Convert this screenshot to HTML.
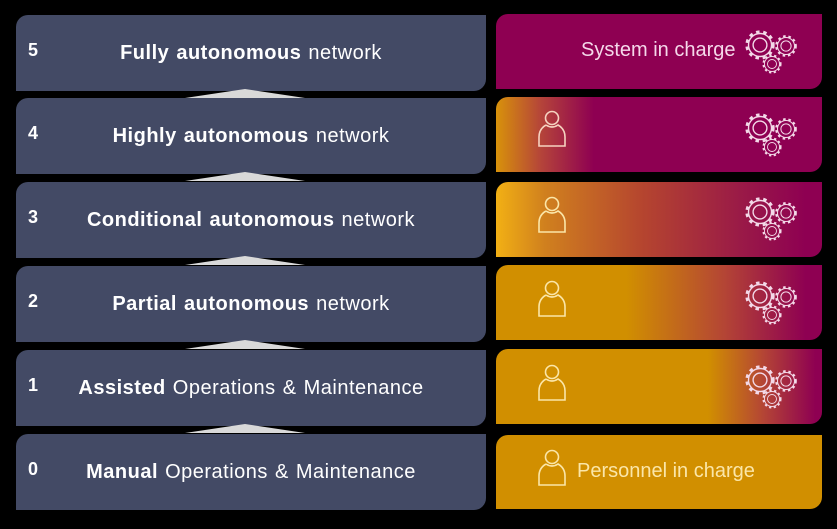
<!DOCTYPE html>
<html><head><style>
body{margin:0;background:#000;width:837px;height:529px;overflow:hidden;position:relative;font-family:"Liberation Sans",sans-serif}
.l{position:absolute;left:16px;width:470px;height:76px;background:#434a65;border-radius:12px 0 12px 0;color:#fff}
.l .n{position:absolute;left:12px;top:25px;font-size:18px;font-weight:bold}
.l .t{position:absolute;left:0;right:0;top:27px;text-align:center;font-size:20px;letter-spacing:0.5px;word-spacing:1px}
.r{position:absolute;left:496px;width:326px;height:75px;border-radius:12px 0 12px 0}
svg.ic{position:absolute;left:0;top:0}
</style></head><body>
<div class="l" style="top:15px"><span class="n">5</span><div class="t"><b>Fully autonomous</b> network</div></div>
<div class="l" style="top:98px"><span class="n">4</span><div class="t"><b>Highly autonomous</b> network</div></div>
<div class="l" style="top:182px"><span class="n">3</span><div class="t"><b>Conditional autonomous</b> network</div></div>
<div class="l" style="top:266px"><span class="n">2</span><div class="t"><b>Partial autonomous</b> network</div></div>
<div class="l" style="top:350px"><span class="n">1</span><div class="t"><b>Assisted</b> Operations &amp; Maintenance</div></div>
<div class="l" style="top:434px"><span class="n">0</span><div class="t"><b>Manual</b> Operations &amp; Maintenance</div></div>

<div class="r" style="top:14px;background:#8e0052"></div>
<div class="r" style="top:97px;background:linear-gradient(90deg,#d8920a 0%,#b4433a 14%,#8e0052 30%,#8e0052 100%)"></div>
<div class="r" style="top:182px;background:linear-gradient(90deg,#f2b014 0%,#d0801e 15%,#b5452f 45%,#9a1a47 75%,#8e0052 95%)"></div>
<div class="r" style="top:265px;background:linear-gradient(90deg,#d18f00 0%,#d18f00 40%,#b44535 70%,#8e0052 95%)"></div>
<div class="r" style="top:349px;background:linear-gradient(90deg,#d18f00 0%,#d18f00 65%,#b44535 82%,#8e0052 98%)"></div>
<div class="r" style="top:435px;height:74px;background:#d18f00"></div>

<div style="position:absolute;left:581px;top:39px;color:#f5d8ea;font-size:20px">System in charge</div>
<div style="position:absolute;left:577px;top:460px;color:#fbe6a8;font-size:20px">Personnel in charge</div>

<svg class="ic" width="837" height="529">
<defs>
<g id="gear" fill="none" stroke="#f3d9e8">
<circle cx="0" cy="0" r="11.5" stroke-width="2.5" stroke-dasharray="3 3.3"/>
<circle cx="0" cy="0" r="10" stroke-width="1.2"/>
<circle cx="0" cy="0" r="6" stroke-width="1.2"/>
</g>
<g id="gears">
<g transform="scale(1.15)"><use href="#gear"/></g>
<g transform="translate(26,1) scale(0.85)"><use href="#gear"/></g>
<g transform="translate(12,19) scale(0.75)"><use href="#gear"/></g>
</g>
<g id="person" fill="none" stroke-width="1.6">
<circle cx="0" cy="0" r="6.5"/>
<path d="M-6 7 Q-13 11 -13 19 L-13 28 L13 28 L13 19 Q13 11 6 7 Q0 11 -6 7"/>
</g>
</defs>
<g fill="#d9d9d9">
<polygon points="245,89 185,98 305,98"/>
<polygon points="245,172 185,181 305,181"/>
<polygon points="245,256 185,265 305,265"/>
<polygon points="245,340 185,349 305,349"/>
<polygon points="245,424 185,433 305,433"/>
</g>
<use href="#gears" x="760" y="45"/>
<use href="#gears" x="760" y="128"/>
<use href="#gears" x="760" y="212"/>
<use href="#gears" x="760" y="296"/>
<use href="#gears" x="760" y="380"/>
<use href="#person" x="552" y="118" stroke="#f6d3c0"/>
<use href="#person" x="552" y="204" stroke="#fbe6a8"/>
<use href="#person" x="552" y="288" stroke="#fbe6a8"/>
<use href="#person" x="552" y="372" stroke="#fbe6a8"/>
<use href="#person" x="552" y="457" stroke="#fbe6a8"/>
</svg>
</body></html>
